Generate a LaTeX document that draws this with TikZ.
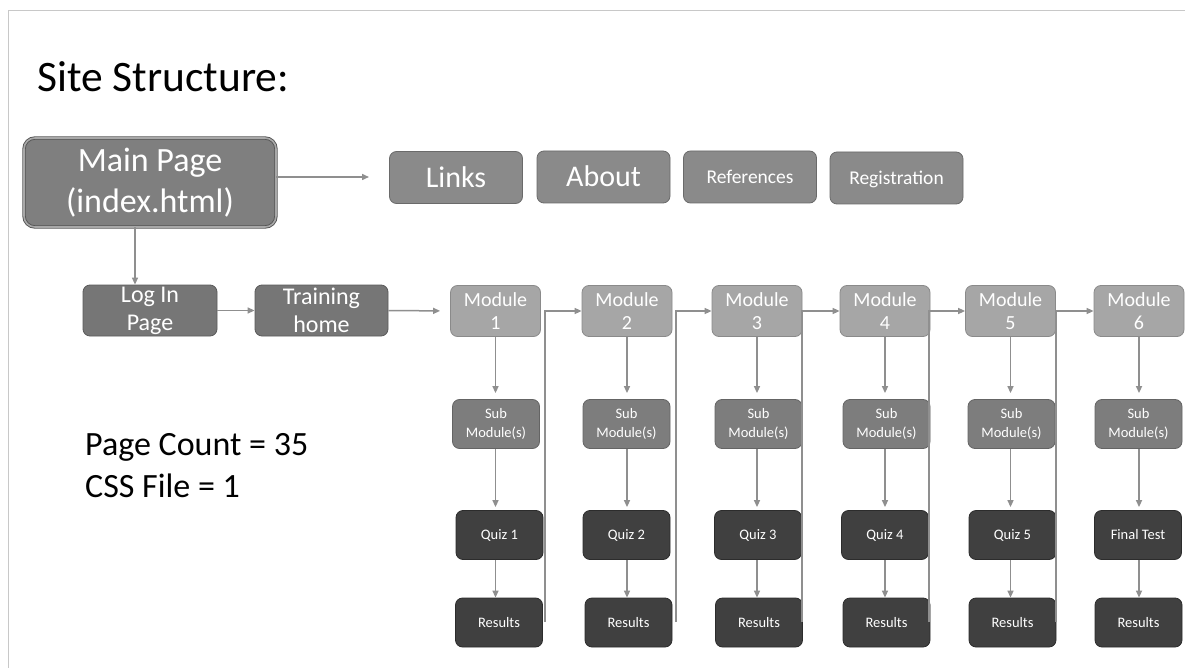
\documentclass[tikz,border=0pt]{standalone}
\usepackage{fontspec}
\setmainfont{Carlito}
\usetikzlibrary{arrows.meta}
\definecolor{framec}{HTML}{C8C8C8}
\definecolor{arrc}{HTML}{8F8F8F}
\definecolor{mainfill}{HTML}{7F7F7F}
\definecolor{mainline}{HTML}{555555}
\definecolor{mainring}{HTML}{A8A8A8}
\definecolor{topfill}{HTML}{8A8A8A}
\definecolor{topline}{HTML}{6A6A6A}
\definecolor{navfill}{HTML}{767676}
\definecolor{navline}{HTML}{5A5A5A}
\definecolor{modfill}{HTML}{A6A6A6}
\definecolor{modline}{HTML}{8A8A8A}
\definecolor{subfill}{HTML}{7D7D7D}
\definecolor{subline}{HTML}{646464}
\definecolor{darkfill}{HTML}{404040}
\definecolor{darkline}{HTML}{2C2C2C}
\newcommand\myfs[2]{\fontsize{#1}{#2}\selectfont}
\tikzset{
  boxbase/.style={rounded corners=7pt, inner sep=0pt, align=center, text=white, line width=0.8pt},
  mainbox/.style={boxbase, rounded corners=11pt, fill=mainfill, draw=mainline, double=mainring, double distance=1.6pt, line width=0.9pt,
    minimum width=252pt, minimum height=89pt, font=\myfs{34}{41}},
  topbox/.style={boxbase, fill=topfill, draw=topline, minimum width=133pt, minimum height=52pt, text depth=0pt},
  bigtop/.style={topbox, font=\myfs{30}{34}, text height=19.5pt},
  smalltop/.style={topbox, font=\myfs{19.5}{22}, text height=12.5pt},
  navbox/.style={boxbase, fill=navfill, draw=navline, minimum width=134pt, minimum height=51pt, font=\myfs{24}{28}},
  modbox/.style={boxbase, fill=modfill, draw=modline, minimum width=90pt, minimum height=51pt, font=\myfs{20}{22.5}},
  subbox/.style={boxbase, fill=subfill, draw=subline, minimum width=87pt, minimum height=49pt, font=\myfs{14.5}{19}},
  darkbox/.style={boxbase, fill=darkfill, draw=darkline, minimum width=87pt, minimum height=49pt, font=\myfs{14.5}{17}},
  arr/.style={draw=arrc, line width=1.5pt, -{Triangle[length=7pt,width=6pt]}}
}
\begin{document}
\begin{tikzpicture}[x=1pt,y=-1pt]
\useasboundingbox (0,0) rectangle (1185,668);
\fill[white] (0,0) rectangle (1185,668);
\draw[framec, line width=1pt] (8,668) -- (8,11) -- (1185,11);

\node[anchor=base west, inner sep=0pt, font=\myfs{43.5}{50}] (title) at (37,92) {Site Structure:};
\node[anchor=base west, inner sep=0pt, font=\myfs{34}{42}, align=left] (count) at (85,455) {Page Count = 35};
\node[anchor=base west, inner sep=0pt, font=\myfs{34}{42}, align=left] (css) at (85,497) {CSS File = 1};

\node[mainbox] (main) at (150,182.5) {Main Page\\(index.html)};
\node[bigtop] (links) at (456,177.5) {Links};
\node[bigtop] (about) at (603.5,177) {About};
\node[smalltop] (refs) at (750,177) {References};
\node[smalltop] (reg) at (896.5,178) {Registration};
\coordinate (linksin) at (369,177);
\draw[arr] (main.east |- linksin) -- (linksin);

\node[navbox] (login) at (150,310.5) {Log In\\Page};
\node[navbox, minimum width=133pt] (train) at (321.5,310.5) {Training\\home};
\draw[arr] ([xshift=-15pt]main.south) -- ([xshift=-15pt]login.north);
\draw[arr] (login.east) -- (train.west);

\foreach \i/\mx/\sx/\qx/\rx/\qt in {1/495.5/496/499.5/499/Quiz 1, 2/627/626.5/626.5/628.5/Quiz 2, 3/757/758.5/758/759/Quiz 3, 4/885/886.5/885/886.5/Quiz 4, 5/1010.5/1011.5/1012.5/1012.5/Quiz 5, 6/1139/1138.5/1138/1138.5/Final Test}{
  \node[modbox] (m\i) at (\mx,311) {Module\\\i};
  \node[subbox] (s\i) at (\sx,424) {Sub\\Module(s)};
  \node[darkbox] (q\i) at (\qx,535) {\qt};
  \node[darkbox] (r\i) at (\rx,622.5) {Results};
  \draw[arr, shorten >=6pt] (m\i.south) -- (m\i.south |- s\i.north);
  \draw[arr, shorten >=3pt] (m\i.south |- s\i.south) -- (m\i.south |- q\i.north);
  \draw[arr] (m\i.south |- q\i.south) -- (m\i.south |- r\i.north);
}
\draw[arr, shorten >=10pt] (train.east) -- (m1.west);

\foreach \i/\j/\lx in {1/2/545, 2/3/676, 3/4/802, 4/5/929, 5/6/1056}{
  \coordinate (c\i) at (\lx,622);
  \draw[arr] (c\i) |- (m\j.west);
}
\end{tikzpicture}
\end{document}
